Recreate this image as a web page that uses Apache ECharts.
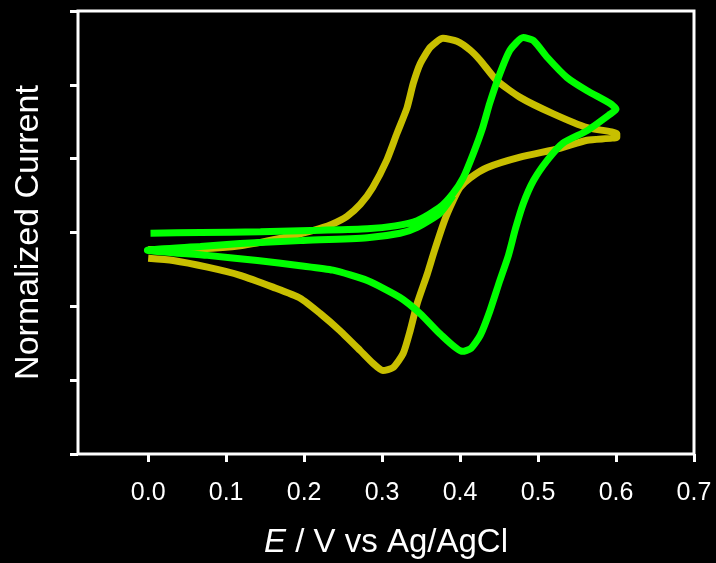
<!DOCTYPE html>
<html>
<head>
<meta charset="utf-8">
<script src="https://cdn.jsdelivr.net/npm/echarts@6/dist/echarts.min.js"></script>
<style>
  html, body { margin: 0; padding: 0; background: #000; }
  #chart { width: 716px; height: 563px; }
</style>
</head>
<body>
<div id="chart"></div>
<script>
// potentials (V vs Ag/AgCl) and normalized currents
const yellowE = [0.000, 0.067, 0.118, 0.169, 0.212, 0.235, 0.255, 0.272, 0.288, 0.306, 0.319, 0.332, 0.340, 0.349, 0.362, 0.378, 0.396, 0.413, 0.426, 0.447, 0.477, 0.519, 0.563, 0.601,
  0.601, 0.563, 0.528, 0.477, 0.435, 0.413, 0.400, 0.391, 0.380, 0.367, 0.358, 0.345, 0.336, 0.327, 0.314, 0.301, 0.288, 0.272, 0.246, 0.221, 0.195, 0.160, 0.118, 0.076, 0.032, 0.000];
const yellowI = [-0.23, -0.22, -0.18, -0.08, 0.03, 0.11, 0.22, 0.38, 0.61, 0.98, 1.34, 1.69, 2.02, 2.29, 2.51, 2.63, 2.59, 2.47, 2.33, 2.06, 1.83, 1.61, 1.42, 1.34,
  1.29, 1.25, 1.14, 1.02, 0.88, 0.74, 0.61, 0.43, 0.16, -0.25, -0.56, -0.96, -1.33, -1.64, -1.83, -1.87, -1.77, -1.60, -1.33, -1.10, -0.89, -0.74, -0.58, -0.47, -0.38, -0.35];

const greenE = [0.003, 0.067, 0.144, 0.221, 0.281, 0.317, 0.345, 0.374, 0.391, 0.404, 0.417, 0.429, 0.438, 0.451, 0.464, 0.481, 0.494, 0.512, 0.537, 0.563, 0.592, 0.600,
  0.592, 0.563, 0.532, 0.512, 0.494, 0.481, 0.471, 0.462, 0.451, 0.438, 0.426, 0.414, 0.403, 0.374, 0.349, 0.323, 0.281, 0.237, 0.195, 0.140, 0.076, -0.001,
  0.067, 0.118, 0.195, 0.281, 0.323, 0.345, 0.374, 0.391];
const greenI = [-0.01, 0.00, 0.01, 0.03, 0.05, 0.09, 0.16, 0.34, 0.53, 0.74, 1.07, 1.42, 1.75, 2.15, 2.47, 2.64, 2.60, 2.37, 2.10, 1.92, 1.75, 1.67,
  1.60, 1.38, 1.21, 0.98, 0.70, 0.39, 0.05, -0.31, -0.65, -1.07, -1.39, -1.57, -1.61, -1.37, -1.10, -0.88, -0.65, -0.51, -0.45, -0.38, -0.31, -0.24,
  -0.19, -0.15, -0.11, -0.07, -0.01, 0.07, 0.26, 0.50];

const xTicks = [0, 0.1, 0.2, 0.3, 0.4, 0.5, 0.6, 0.7];

const pair = (xs, ys) => xs.map((x, i) => [x, ys[i]]);

const chart = echarts.init(document.getElementById("chart"), null, { renderer: "canvas" });
chart.setOption({
  animation: false,
  backgroundColor: "#000",
  textStyle: { fontFamily: "Liberation Sans, Arial, sans-serif" },
  grid: {
    left: 78, right: 22, top: 11, bottom: 109,
    outerBoundsMode: "none",
    show: true, borderColor: "#fff", borderWidth: 3,
  },
  xAxis: {
    type: "value",
    min: -0.09,
    max: 0.7,
    axisLine: { show: false, onZero: false },
    axisTick: { show: true, length: 8, customValues: xTicks, lineStyle: { color: "#fff", width: 3 } },
    axisLabel: { customValues: xTicks, color: "#fff", fontSize: 25, margin: 27, formatter: (v) => v.toFixed(1) },
    splitLine: { show: false },
    name: "{i|E} / V vs Ag/AgCl",
    nameLocation: "middle",
    nameGap: 72,
    nameTextStyle: {
      color: "#fff", fontSize: 33,
      rich: { i: { fontStyle: "italic", fontSize: 33, color: "#fff" } },
    },
  },
  yAxis: {
    type: "value",
    min: -3,
    max: 3,
    interval: 1,
    axisLine: { show: false, onZero: false },
    axisTick: { show: true, length: 8, lineStyle: { color: "#fff", width: 3 } },
    axisLabel: { show: false },
    splitLine: { show: false },
    name: "Normalized Current",
    nameLocation: "middle",
    nameGap: 32,
    nameRotate: 90,
    nameTextStyle: { color: "#fff", fontSize: 34 },
  },
  series: [
    {
      type: "line",
      data: pair(yellowE, yellowI),
      showSymbol: false,
      smooth: 0.2,
      lineStyle: { color: "#c8bf00", width: 7 },
    },
    {
      type: "line",
      data: pair(greenE, greenI),
      showSymbol: false,
      smooth: 0.2,
      lineStyle: { color: "#00ff00", width: 7 },
    },
  ],
});
</script>
</body>
</html>
